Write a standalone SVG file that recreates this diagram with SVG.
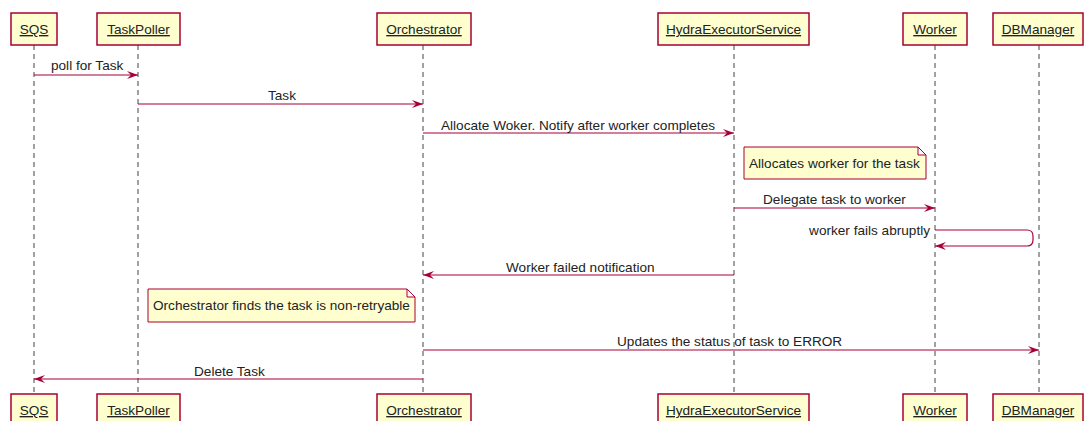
<svg xmlns="http://www.w3.org/2000/svg" width="1091" height="421" viewBox="0 0 1091 421">
<defs>
<style>
.p rect{fill:#FEFECE;stroke:#A80036;stroke-width:1.5}
.p text{font-family:"Liberation Sans",Arial,sans-serif;font-size:13.6px;fill:#222;text-anchor:middle;text-decoration:underline}
.life{stroke:#444;stroke-width:1;stroke-dasharray:5,4;fill:none}
.msg{stroke:#A80036;stroke-width:1.2;fill:none}
.lbl{font-family:"Liberation Sans",Arial,sans-serif;font-size:13.6px;fill:#222}
.note path{fill:#FEFECE;stroke:#A80036;stroke-width:1}
.note text{font-family:"Liberation Sans",Arial,sans-serif;font-size:13.6px;fill:#222}
</style>
<marker id="ah" viewBox="0 0 11 8" refX="11" refY="4" markerWidth="11" markerHeight="8" markerUnits="userSpaceOnUse" orient="auto">
<path d="M0,0 L11,4 L0,8 L4,4 Z" fill="#A80036"/>
</marker>
</defs>
<rect width="1091" height="421" fill="#fff"/>
<g id="lifelines">
<line class="life" x1="34" y1="45" x2="34" y2="394"/>
<line class="life" x1="138" y1="45" x2="138" y2="394"/>
<line class="life" x1="423" y1="45" x2="423" y2="394"/>
<line class="life" x1="734" y1="45" x2="734" y2="394"/>
<line class="life" x1="935" y1="45" x2="935" y2="394"/>
<line class="life" x1="1039" y1="45" x2="1039" y2="394"/>
</g>
<g id="SQS" class="p">
<rect x="11" y="13" width="46" height="32"/><text x="34" y="34">SQS</text>
<rect x="11" y="394" width="46" height="32"/><text x="34" y="415">SQS</text>
</g>
<g id="TaskPoller" class="p">
<rect x="97" y="13" width="83" height="32"/><text x="138.5" y="34">TaskPoller</text>
<rect x="97" y="394" width="83" height="32"/><text x="138.5" y="415">TaskPoller</text>
</g>
<g id="Orchestrator" class="p">
<rect x="377" y="13" width="94" height="32"/><text x="424" y="34">Orchestrator</text>
<rect x="377" y="394" width="94" height="32"/><text x="424" y="415">Orchestrator</text>
</g>
<g id="HydraExecutorService" class="p">
<rect x="658" y="13" width="151" height="32"/><text x="733.5" y="34">HydraExecutorService</text>
<rect x="658" y="394" width="151" height="32"/><text x="733.5" y="415">HydraExecutorService</text>
</g>
<g id="Worker" class="p">
<rect x="903" y="13" width="64" height="32"/><text x="935" y="34">Worker</text>
<rect x="903" y="394" width="64" height="32"/><text x="935" y="415">Worker</text>
</g>
<g id="DBManager" class="p">
<rect x="993" y="13" width="90" height="32"/><text x="1038" y="34">DBManager</text>
<rect x="993" y="394" width="90" height="32"/><text x="1038" y="415">DBManager</text>
</g>
<g id="note1" class="note">
<path d="M744,147 H918 L926,155 V179 H744 Z M918,147 V155 H926"/>
<text x="749" y="168">Allocates worker for the task</text>
</g>
<g id="note2" class="note">
<path d="M148,289 H407 L415,297 V322 H148 Z M407,289 V297 H415"/>
<text x="153" y="310">Orchestrator finds the task is non-retryable</text>
</g>
<g id="connectors">
<line class="msg" x1="34" y1="75" x2="138" y2="75" marker-end="url(#ah)"/>
<text class="lbl" x="51" y="70">poll for Task</text>
<line class="msg" x1="138" y1="104" x2="423" y2="104" marker-end="url(#ah)"/>
<text class="lbl" x="268" y="100">Task</text>
<line class="msg" x1="423" y1="133" x2="734" y2="133" marker-end="url(#ah)"/>
<text class="lbl" x="441" y="130">Allocate Woker. Notify after worker completes</text>
<line class="msg" x1="734" y1="208" x2="935" y2="208" marker-end="url(#ah)"/>
<text class="lbl" x="763" y="204">Delegate task to worker</text>
<path class="msg" d="M935,230 H1027 Q1033,230 1033,236 V240 Q1033,246 1027,246 H935" marker-end="url(#ah)"/>
<text class="lbl" x="930" y="235" text-anchor="end">worker fails abruptly</text>
<line class="msg" x1="734" y1="275" x2="423" y2="275" marker-end="url(#ah)"/>
<text class="lbl" x="506" y="272">Worker failed notification</text>
<line class="msg" x1="423" y1="350" x2="1039" y2="350" marker-end="url(#ah)"/>
<text class="lbl" x="617" y="346">Updates the status of task to ERROR</text>
<line class="msg" x1="423" y1="379" x2="34" y2="379" marker-end="url(#ah)"/>
<text class="lbl" x="194" y="376">Delete Task</text>
</g>
</svg>
